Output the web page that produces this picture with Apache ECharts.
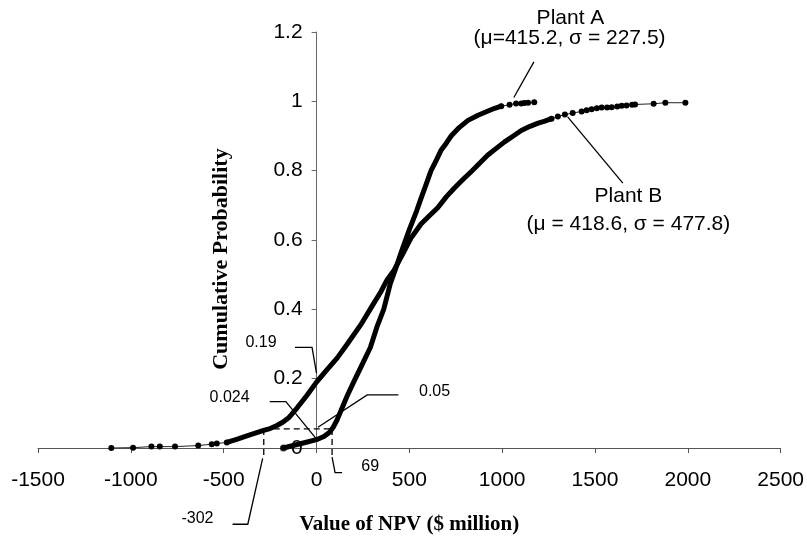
<!DOCTYPE html>
<html>
<head>
<meta charset="utf-8">
<title>Cumulative Probability of NPV</title>
<script src="https://cdn.jsdelivr.net/npm/echarts@6/dist/echarts.min.js"></script>
<style>
  html, body { margin: 0; padding: 0; background: #fff; }
  #chart { width: 807px; height: 540px; }
</style>
</head>
<body>
<div id="chart"></div>
<script>
// axis ticks
const xTicks = [-1500, -1000, -500, 0, 500, 1000, 1500, 2000, 2500];
const yTicks = [0, 0.2, 0.4, 0.6, 0.8, 1, 1.2];

// Plant A, [NPV, cumulative probability]
const plantACore = [
  [-178, 0.000], [-120, 0.008], [-60, 0.016], [0, 0.024], [40, 0.033], [69, 0.045],
  [90, 0.060], [110, 0.080], [130, 0.105], [165, 0.150], [200, 0.190], [245, 0.240],
  [290, 0.290], [326, 0.350], [362, 0.400], [398, 0.475], [425, 0.515], [460, 0.570],
  [500, 0.630], [540, 0.685], [563, 0.720], [590, 0.760], [617, 0.800], [645, 0.830],
  [670, 0.858], [700, 0.880], [725, 0.900], [770, 0.925], [816, 0.945], [870, 0.960],
  [924, 0.972], [960, 0.980], [995, 0.986]
];
const plantATail = [
  [995, 0.986], [1040, 0.990], [1075, 0.994], [1103, 0.994], [1120, 0.995],
  [1140, 0.996], [1173, 0.997]
];

// Plant B
const plantBLow = [
  [-1105, 0.000], [-988, 0.001], [-889, 0.004], [-844, 0.004], [-762, 0.004],
  [-637, 0.007], [-564, 0.011], [-537, 0.013], [-483, 0.016]
];
const plantBCore = [
  [-483, 0.016], [-430, 0.025], [-375, 0.035], [-330, 0.043], [-285, 0.051],
  [-250, 0.056], [-213, 0.065], [-180, 0.075], [-150, 0.087], [-104, 0.116],
  [-50, 0.153], [0, 0.190], [50, 0.222], [112, 0.260], [166, 0.300], [238, 0.355],
  [300, 0.410], [346, 0.450], [380, 0.485], [418, 0.513], [465, 0.560], [508, 0.605],
  [563, 0.646], [608, 0.670], [653, 0.693], [700, 0.725], [743, 0.750], [790, 0.775],
  [833, 0.797], [880, 0.822], [923, 0.845], [970, 0.865], [1013, 0.883], [1060, 0.900],
  [1103, 0.916], [1150, 0.928], [1194, 0.937], [1230, 0.943], [1266, 0.950]
];
const plantBHigh = [
  [1266, 0.950], [1300, 0.956], [1338, 0.962], [1380, 0.966], [1428, 0.971],
  [1455, 0.974], [1482, 0.977], [1510, 0.980], [1536, 0.982], [1565, 0.982],
  [1590, 0.983], [1620, 0.985], [1644, 0.987], [1670, 0.988], [1700, 0.990],
  [1716, 0.991], [1816, 0.993], [1879, 0.996], [1987, 0.996]
];

// annotation texts and where they sit (data units)
const notes = [
  { text: 'Plant A', at: [1368, 1.239], size: 21 },
  { text: '(\u03bc=415.2, \u03c3 = 227.5)', at: [1363, 1.182], size: 21 },
  { text: 'Plant B', at: [1680, 0.727], size: 21 },
  { text: '(\u03bc = 418.6, \u03c3 = 477.8)', at: [1680, 0.645], size: 21 },
  { text: '0.19', at: [-299, 0.304], size: 16 },
  { text: '0.024', at: [-468, 0.145], size: 16 },
  { text: '0.05', at: [636, 0.162], size: 16 },
  { text: '-302', at: [-641, -0.205], size: 16 },
  { text: '69', at: [289, -0.054], size: 16 }
];
const leaders = [
  [[1171, 1.114], [1063, 1.011]],
  [[1650, 0.764], [1353, 0.955]],
  [[-116, 0.29], [-24, 0.29], [0, 0.216]],
  [[-252, 0.134], [-165, 0.134], [-3, 0.028]],
  [[441, 0.153], [273, 0.153], [8, 0.06]],
  [[-290, -0.03], [-370, -0.22], [-452, -0.22]],
  [[84, -0.026], [100, -0.071], [138, -0.071]]
];
const dashed = [
  [[-284, 0.055], [84, 0.055]],
  [[-284, 0.055], [-284, -0.03]],
  [[84, 0.055], [84, -0.026]]
];

let myChart = echarts.init(document.getElementById('chart'), null, { renderer: 'canvas' });

const sans = 'Liberation Sans, Arial, sans-serif';
const serif = 'Liberation Serif, Times New Roman, serif';
const gridLeft = 38, gridRight = 26;
const plotWidth = 807 - gridLeft - gridRight;
// the y axis stands at NPV = 0
const yAxisShift = -plotWidth * (0 - xTicks[0]) / (xTicks[xTicks.length - 1] - xTicks[0]);

function coreLine(data) {
  return {
    type: 'line', data: data, showSymbol: false, symbol: 'none',
    lineStyle: { color: '#000', width: 5, cap: 'round', join: 'round' },
    z: 3, silent: true
  };
}
function dotLine(data) {
  return {
    type: 'line', data: data, symbol: 'circle', symbolSize: 6,
    itemStyle: { color: '#000' },
    lineStyle: { color: '#222', width: 1 },
    z: 3, silent: true
  };
}

let option = {
  animation: false,
  grid: { left: gridLeft, right: gridRight, top: 32, bottom: 86 },
  xAxis: {
    type: 'value',
    min: xTicks[0], max: xTicks[xTicks.length - 1], interval: 500,
    name: 'Value of NPV ($ million)',
    nameLocation: 'middle', nameGap: 66,
    nameTextStyle: { fontFamily: serif, fontWeight: 'bold', fontSize: 21, color: '#000' },
    axisLine: { onZero: true, lineStyle: { color: '#555', width: 1 } },
    axisTick: { show: true, length: 5, lineStyle: { color: '#555' } },
    axisLabel: { margin: 22, fontFamily: sans, fontSize: 21, color: '#000', formatter: v => String(v) },
    splitLine: { show: false }
  },
  yAxis: {
    type: 'value',
    min: yTicks[0], max: yTicks[yTicks.length - 1], interval: 0.2,
    offset: yAxisShift,
    axisLine: { show: true, onZero: false, lineStyle: { color: '#666', width: 1 } },
    axisTick: { show: true, length: 5, lineStyle: { color: '#666' } },
    axisLabel: { margin: 14, fontFamily: sans, fontSize: 21, color: '#000' },
    splitLine: { show: false }
  },
  series: [
    dotLine(plantBLow),
    coreLine(plantBCore),
    dotLine(plantBHigh),
    coreLine(plantACore),
    dotLine(plantATail),
    { type: 'scatter', data: [plantACore[0]], symbolSize: 7, itemStyle: { color: '#000' }, z: 4 }
  ]
};
myChart.setOption(option);

// annotations placed from data coordinates
const px = p => myChart.convertToPixel({ gridIndex: 0 }, p);
let graphics = [];
notes.forEach(n => {
  const p = px(n.at);
  graphics.push({
    type: 'text', x: p[0], y: p[1], z: 10,
    style: { text: n.text, fontFamily: sans, fontSize: n.size, fill: '#000', align: 'center', verticalAlign: 'middle' }
  });
});
leaders.forEach(l => {
  graphics.push({
    type: 'polyline', z: 10, shape: { points: l.map(px) },
    style: { stroke: '#000', lineWidth: 1.3, fill: null }
  });
});
dashed.forEach(l => {
  graphics.push({
    type: 'polyline', z: 10, shape: { points: l.map(px) },
    style: { stroke: '#000', lineWidth: 1.3, lineDash: [6, 4], fill: null }
  });
});
const yName = px([-510, 0.545]);
graphics.push({
  type: 'text', x: yName[0], y: yName[1], rotation: Math.PI / 2, z: 10,
  style: { text: 'Cumulative Probability', fontFamily: serif, fontWeight: 'bold', fontSize: 22, fill: '#000', align: 'center', verticalAlign: 'middle' }
});
myChart.setOption({ graphic: graphics });
</script>
</body>
</html>
